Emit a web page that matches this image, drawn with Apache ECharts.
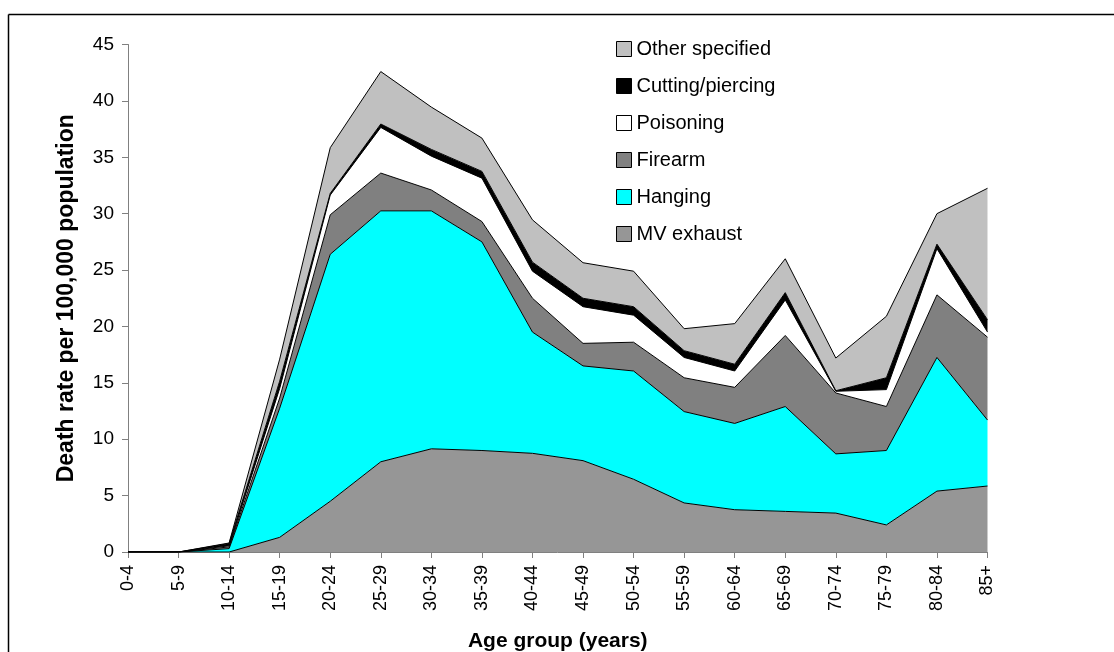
<!DOCTYPE html>
<html>
<head>
<meta charset="utf-8">
<script src="https://cdn.jsdelivr.net/npm/echarts@6/dist/echarts.min.js"></script>
<style>
  html, body { margin: 0; padding: 0; background: #fff; }
  #chart { width: 1114px; height: 652px; }
</style>
</head>
<body>
<div id="chart"></div>
<script>
// age groups along the x axis
var ageGroups = ['0-4', '5-9', '10-14', '15-19', '20-24', '25-29', '30-34', '35-39', '40-44',
                 '45-49', '50-54', '55-59', '60-64', '65-69', '70-74', '75-79', '80-84', '85+'];

// death rate per 100,000, each method (stacked bottom -> top)
var mvExhaust = [0, 0, 0, 1.3, 4.5, 8.0, 9.15, 9.0, 8.75, 8.1, 6.45, 4.35, 3.75, 3.6, 3.45, 2.4, 5.4, 5.85];
var hanging   = [0, 0, 0.3, 11.45, 21.9, 22.25, 21.1, 18.5, 10.75, 8.4, 9.6, 8.1, 7.65, 9.3, 5.25, 6.6, 11.85, 5.85];
var firearm   = [0, 0, 0.15, 0.9, 3.5, 3.35, 1.85, 1.8, 3.0, 2.0, 2.55, 3.0, 3.2, 6.3, 5.4, 3.9, 5.55, 7.35];
var poisoning = [0, 0, 0.1, 0.85, 1.75, 4.05, 3.0, 3.85, 2.4, 3.25, 2.4, 1.8, 1.45, 3.15, 0.15, 1.5, 4.1, 0.45];
var cutting   = [0, 0, 0.2, 0.65, 0.15, 0.3, 0.6, 0.6, 0.8, 0.75, 0.75, 0.6, 0.6, 0.65, 0.05, 1.05, 0.4, 1.1];
var other     = [0, 0, 0.05, 1.95, 4.05, 4.65, 3.75, 2.95, 3.75, 3.15, 3.15, 1.95, 3.6, 3.0, 2.9, 5.45, 2.7, 11.65];

var yTicks = [0, 5, 10, 15, 20, 25, 30, 35, 40, 45];

var chart = echarts.init(document.getElementById('chart'), null, { renderer: 'canvas' });

function layer(name, data, fill) {
    return {
        name: name,
        type: 'line',
        stack: 'total',
        data: data,
        symbol: 'none',
        smooth: false,
        itemStyle: { color: fill },
        lineStyle: { color: '#000', width: 1 },
        areaStyle: { color: fill, opacity: 1 },
        emphasis: { disabled: true }
    };
}

var option = {
    animation: false,
    backgroundColor: '#fff',
    textStyle: { fontFamily: 'Liberation Sans, Arial, sans-serif' },
    grid: { left: 128, right: 126.5, top: 44.5, bottom: 100, outerBoundsMode: 'none', containLabel: false },
    legend: {
        orient: 'vertical',
        left: 611,
        top: 34,
        icon: 'rect',
        itemWidth: 15,
        itemHeight: 15,
        itemGap: 17,
        selectedMode: false,
        itemStyle: { borderColor: '#000', borderWidth: 1 },
        textStyle: { fontSize: 20, color: '#000' },
        data: ['Other specified', 'Cutting/piercing', 'Poisoning', 'Firearm', 'Hanging', 'MV exhaust']
    },
    xAxis: {
        type: 'category',
        data: ageGroups,
        boundaryGap: false,
        name: 'Age group (years)',
        nameLocation: 'middle',
        nameGap: 79,
        nameTextStyle: { fontSize: 21, fontWeight: 'bold', color: '#000' },
        axisLine: { lineStyle: { color: '#808080', width: 1 } },
        axisTick: { show: true, length: 6, alignWithLabel: true, lineStyle: { color: '#808080' } },
        axisLabel: { rotate: 90, fontSize: 18, color: '#000', margin: 13, interval: 0 },
        splitLine: { show: false }
    },
    yAxis: {
        type: 'value',
        min: 0,
        max: 45,
        interval: 5,
        name: 'Death rate per 100,000 population',
        nameLocation: 'middle',
        nameGap: 50,
        nameTextStyle: { fontSize: 23, fontWeight: 'bold', color: '#000' },
        axisLine: { show: true, lineStyle: { color: '#808080', width: 1 } },
        axisTick: { show: true, length: 6, lineStyle: { color: '#808080' } },
        axisLabel: {
            fontSize: 19, color: '#000', margin: 14,
            formatter: function (v) { return yTicks.indexOf(v) >= 0 ? String(v) : ''; }
        },
        splitLine: { show: false }
    },
    series: [
        layer('MV exhaust', mvExhaust, '#969696'),
        layer('Hanging', hanging, '#00ffff'),
        layer('Firearm', firearm, '#808080'),
        layer('Poisoning', poisoning, '#ffffff'),
        layer('Cutting/piercing', cutting, '#000000'),
        layer('Other specified', other, '#c0c0c0')
    ],
    graphic: [
        { type: 'line', shape: { x1: 8.5, y1: 14.5, x2: 1114, y2: 14.5 }, style: { stroke: '#000', lineWidth: 1.5 } },
        { type: 'line', shape: { x1: 8.5, y1: 14.5, x2: 8.5, y2: 652 }, style: { stroke: '#000', lineWidth: 1.5 } }
    ]
};

chart.setOption(option);
</script>
</body>
</html>
